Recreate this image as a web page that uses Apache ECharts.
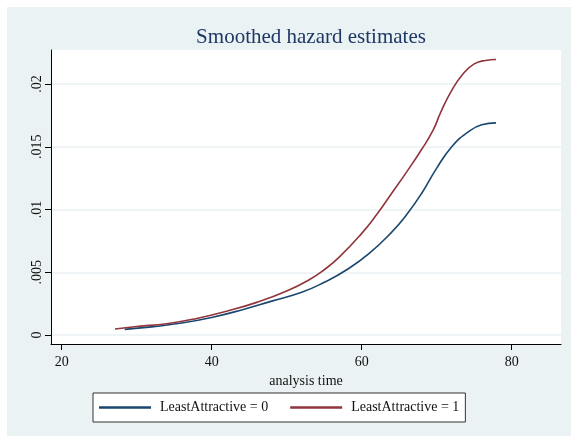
<!DOCTYPE html>
<html>
<head>
<meta charset="utf-8">
<script src="https://cdn.jsdelivr.net/npm/echarts@6/dist/echarts.min.js"></script>
<style>
html,body{margin:0;padding:0;background:#ffffff;}
#c{position:absolute;left:0;top:0;width:571px;height:436px;}
</style>
</head>
<body>
<div id="c"></div>
<script>
var titleText = "Smoothed hazard estimates";
var xName = "analysis time";
var seriesNames = ["LeastAttractive = 0", "LeastAttractive = 1"];
var xTicks = [20, 40, 60, 80];
var yTicks = [0, 0.005, 0.01, 0.015, 0.02];

var t0 = [28.4, 32, 36, 40, 44, 48, 52, 55, 58, 61, 64, 66, 68, 70, 72, 74, 76, 77.9];
var h0 = [0.00045, 0.00065, 0.00095, 0.0014, 0.0020, 0.0027, 0.0034, 0.0042, 0.0052, 0.0065, 0.0082, 0.0096, 0.0113, 0.0133, 0.0150, 0.0161, 0.01675, 0.0169];

var t1 = [27.1, 30, 34, 38, 42, 46, 50, 53, 55, 57, 60, 62, 64, 66, 68, 69.5, 70.5, 72, 73.5, 75, 76.5, 77.9];
var h1 = [0.00048, 0.00068, 0.0009, 0.00132, 0.0019, 0.0026, 0.0035, 0.0044, 0.0052, 0.0062, 0.0081, 0.0096, 0.0113, 0.0130, 0.0148, 0.0163, 0.0177, 0.0195, 0.0208, 0.0216, 0.02188, 0.02195];

function pairs(xs, ys){ return xs.map(function(x,i){ return [x, ys[i]]; }); }

var chart = echarts.init(document.getElementById('c'), null, {renderer:'canvas'});
var serif = "'Liberation Serif', 'DejaVu Serif', serif";
chart.setOption({
  backgroundColor: '#ffffff',
  animation: false,
  graphic: [{
    type: 'rect', left: 7, top: 7, z: -10,
    shape: {width: 564, height: 429},
    style: {fill: '#eaf2f3'}
  }],
  title: {
    text: titleText, left: 306, top: 22, textAlign: 'center',
    textStyle: {fontFamily: serif, fontSize: 21, fontWeight: 'normal', color: '#1e3765'}
  },
  grid: {left: 51, right: 10, top: 50, bottom: 92, show: true, backgroundColor: '#ffffff', borderWidth: 0},
  legend: {
    left: 93, top: 393,
    backgroundColor: '#ffffff', borderColor: '#333333', borderWidth: 1, borderRadius: 0,
    padding: [7, 6, 7, 6],
    icon: 'rect',
    itemWidth: 52, itemHeight: 2.5, itemGap: 22,
    textStyle: {fontFamily: serif, fontSize: 14, color: '#111', padding: [0,0,0,4], lineHeight: 15},
    data: seriesNames
  },
  xAxis: {
    type: 'value', min: 18.57, max: 86.57,
    name: xName, nameLocation: 'middle', nameGap: 25,
    nameTextStyle: {fontFamily: serif, fontSize: 14, color: '#111'},
    axisLine: {show: true, onZero: false, lineStyle: {color: '#000', width: 1}},
    axisTick: {show: true, length: 6, customValues: xTicks, lineStyle: {color: '#000'}},
    axisLabel: {customValues: xTicks, margin: 11, fontFamily: serif, fontSize: 14, color: '#111'},
    splitLine: {show: false}
  },
  yAxis: {
    type: 'value', min: -0.000717, max: 0.02271,
    axisLine: {show: true, onZero: false, lineStyle: {color: '#000', width: 1}},
    axisTick: {show: true, length: 6, customValues: yTicks, lineStyle: {color: '#000'}},
    axisLabel: {
      customValues: yTicks, rotate: 90, margin: 7, fontFamily: serif, fontSize: 14, color: '#111',
      formatter: function(v){ return v === 0 ? '0' : String(v).replace(/^0/, ''); }
    },
    splitLine: {show: true, lineStyle: {color: '#eaf2f3', width: 1.5}}
  },
  series: [
    {name: seriesNames[0], type: 'line', data: pairs(t0, h0), smooth: 0.5, symbol: 'none',
     lineStyle: {color: '#1a476f', width: 1.6}, itemStyle: {color: '#1a476f'}},
    {name: seriesNames[1], type: 'line', data: pairs(t1, h1), smooth: 0.5, symbol: 'none',
     lineStyle: {color: '#90353b', width: 1.6}, itemStyle: {color: '#90353b'}}
  ]
});
</script>
</body>
</html>
